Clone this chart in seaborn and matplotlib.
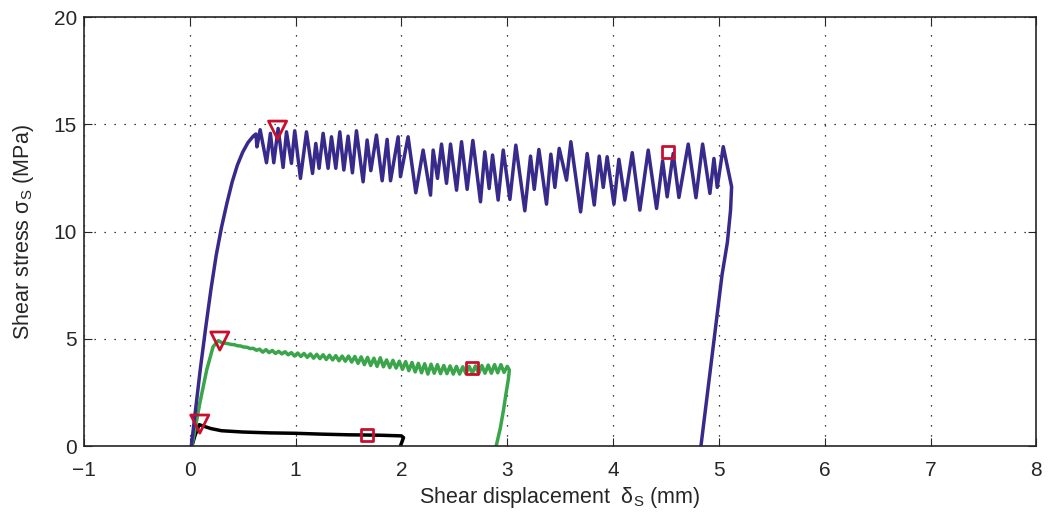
import numpy as np
import pandas as pd
import matplotlib
matplotlib.use('Agg')
import matplotlib.pyplot as plt
import seaborn as sns

# Blue curve (highest normal stress): loading, stick-slip, unloading
blue_x = [0.015, 0.05, 0.10, 0.15, 0.20, 0.25, 0.30, 0.35, 0.40, 0.45, 0.50, 0.55, 0.60, 0.625, 0.635,
          0.665, 0.725, 0.762, 0.794, 0.835, 0.882, 0.914, 0.961, 0.992, 1.046, 1.103, 1.160,
          1.191, 1.222, 1.260, 1.307, 1.339, 1.380, 1.418, 1.456, 1.496, 1.537, 1.575, 1.638,
          1.676, 1.711, 1.764, 1.818, 1.865, 1.897, 1.969, 1.991, 2.063, 2.136, 2.205, 2.275,
          2.300, 2.341, 2.379, 2.426, 2.464, 2.521, 2.568, 2.621, 2.675, 2.747, 2.788, 2.829,
          2.861, 2.914, 2.962, 3.025, 3.081, 3.166, 3.220, 3.255, 3.299, 3.371, 3.412, 3.450,
          3.491, 3.560, 3.601, 3.693, 3.755, 3.822, 3.869, 3.907, 3.944, 4.008, 4.055, 4.112,
          4.181, 4.253, 4.332, 4.411, 4.468, 4.511, 4.568, 4.622, 4.710, 4.783, 4.846, 4.915,
          4.953, 4.984, 5.041, 5.120, 5.110, 5.080, 5.030, 4.980, 4.930, 4.880, 4.830]
blue_y = [0.0, 1.5, 3.6, 5.5, 7.3, 8.9, 10.2, 11.3, 12.3, 13.1, 13.7, 14.15, 14.45, 14.55, 13.95,
          14.75, 13.21, 14.58, 13.21, 14.81, 12.99, 14.65, 13.18, 14.70, 12.48, 14.65, 12.71,
          14.11, 12.95, 14.58, 12.95, 14.42, 12.95, 14.65, 12.87, 14.45, 12.74, 14.70, 12.32,
          14.27, 12.84, 14.50, 12.37, 14.30, 12.37, 14.42, 12.56, 14.42, 11.81, 13.80, 11.70,
          13.80, 12.48, 14.08, 12.25, 14.08, 11.93, 14.19, 11.97, 14.25, 11.39, 13.72, 12.01,
          13.57, 11.47, 13.80, 11.50, 14.03, 10.97, 13.52, 11.97, 13.83, 11.28, 13.61, 12.06,
          13.88, 12.40, 14.19, 10.92, 13.64, 11.24, 13.52, 12.06, 13.49, 11.28, 13.37, 11.47,
          13.68, 11.00, 13.80, 11.08, 13.30, 11.62, 13.64, 11.59, 14.08, 11.58, 14.08, 11.78,
          13.41, 12.06, 13.96, 12.09, 11.0, 9.5, 8.0, 6.0, 4.0, 2.0, 0.0]

# Green curve (intermediate normal stress)
green_x = [0.02, 0.05, 0.095, 0.16, 0.22, 0.27,
           0.30, 0.33, 0.36, 0.39, 0.42, 0.45, 0.48, 0.51, 0.54, 0.57, 0.60, 0.63, 0.66, 0.69,
           0.72, 0.75, 0.78, 0.81, 0.84, 0.87, 0.90, 0.93, 0.96, 0.99, 1.02, 1.05, 1.08, 1.11,
           1.14, 1.17, 1.20, 1.23, 1.26, 1.29, 1.32, 1.35, 1.38, 1.41, 1.44, 1.47, 1.50, 1.53,
           1.56, 1.59, 1.62, 1.65, 1.68, 1.71, 1.74, 1.77, 1.80, 1.83, 1.86, 1.89, 1.92, 1.95,
           1.98, 2.01, 2.04, 2.07, 2.10, 2.13, 2.16, 2.19, 2.22, 2.25, 2.28, 2.31, 2.34, 2.37,
           2.40, 2.43, 2.46, 2.49, 2.52, 2.55, 2.58, 2.61, 2.64, 2.67, 2.70, 2.73, 2.76, 2.79,
           2.82, 2.85, 2.88, 2.91, 2.94, 2.97, 3.00,
           3.02, 3.01, 2.99, 2.965, 2.935, 2.895]
green_y = [0.0, 0.8, 2.0, 3.55, 4.63, 4.92,
           4.83, 4.80, 4.78, 4.74, 4.73, 4.68, 4.67, 4.62, 4.61, 4.55, 4.56, 4.47, 4.52, 4.38,
           4.50, 4.36, 4.46, 4.32, 4.42, 4.30, 4.40, 4.26, 4.36, 4.20, 4.34, 4.18, 4.32, 4.14,
           4.30, 4.10, 4.28, 4.08, 4.26, 4.04, 4.24, 4.02, 4.22, 3.98, 4.20, 3.96, 4.20, 3.92,
           4.18, 3.86, 4.16, 3.80, 4.14, 3.76, 4.10, 3.72, 4.12, 3.70, 4.02, 3.66, 4.00, 3.64,
           3.96, 3.58, 3.94, 3.52, 3.90, 3.46, 3.86, 3.42, 3.84, 3.36, 3.82, 3.40, 3.80, 3.38,
           3.76, 3.38, 3.74, 3.36, 3.72, 3.36, 3.70, 3.38, 3.72, 3.40, 3.74, 3.38, 3.76, 3.40,
           3.78, 3.40, 3.80, 3.42, 3.80, 3.44, 3.72,
           3.55, 3.10, 2.50, 1.70, 0.85, 0.0]

# Black curve (lowest normal stress)
black_x = [0.02, 0.05, 0.09, 0.12, 0.20, 0.30, 0.50, 0.75, 1.00, 1.25, 1.50, 1.66, 1.80, 2.00, 2.02, 1.99]
black_y = [0.0, 0.5, 1.0, 0.95, 0.82, 0.72, 0.66, 0.62, 0.60, 0.56, 0.53, 0.52, 0.51, 0.48, 0.40, 0.0]

# Peak (triangle) and residual (square) markers
peak_x = [0.83, 0.284, 0.095]
peak_y = [14.73, 4.90, 1.03]
resid_x = [4.52, 2.665, 1.673]
resid_y = [13.70, 3.64, 0.51]

BLUE = '#382a8a'
GREEN = '#3aa54a'
RED = '#c8102e'

sns.set_style('ticks')
plt.rcParams['font.family'] = ['Liberation Sans', 'DejaVu Sans']
plt.rcParams['mathtext.fontset'] = 'custom'
plt.rcParams['mathtext.rm'] = 'Liberation Sans'
plt.rcParams['mathtext.it'] = 'Liberation Sans:italic'

fig = plt.figure(figsize=(10.49, 5.17), dpi=100)
ax = fig.add_axes([0.080, 0.137, 0.908, 0.830])

for xs, ys, col in [(black_x, black_y, 'black'), (green_x, green_y, GREEN), (blue_x, blue_y, BLUE)]:
    df = pd.DataFrame({'x': xs, 'y': ys})
    sns.lineplot(data=df, x='x', y='y', sort=False, estimator=None, color=col, lw=2.5, ax=ax)

sns.scatterplot(x=peak_x, y=peak_y, marker='v', s=170, fc='none', ec=RED, linewidth=2.0, ax=ax, zorder=5)
sns.scatterplot(x=resid_x, y=resid_y, marker='s', s=75, fc='none', ec=RED, linewidth=2.0, ax=ax, zorder=5)

ax.set_xlim(-1, 8)
ax.set_ylim(0, 20)
ax.set_xticks(range(-1, 9))
ax.set_yticks([0, 5, 10, 15, 20])
ax.set_xticklabels(['\u22121'] + [str(i) for i in range(0, 9)])
ax.grid(True, color='black', linestyle=(0, (1, 7)), linewidth=0.9)
ax.tick_params(direction='in', length=6, width=0.8, top=True, right=True, labelsize=15)
ax.tick_params(axis='x', pad=11)
ax.tick_params(axis='y', pad=5)
for s in ax.spines.values():
    s.set_linewidth(1.2)
    s.set_visible(True)

ax.set_xlabel('Shear displacement  \u03b4$_\\mathrm{S}$ (mm)', fontsize=15.5, labelpad=3)
ax.set_ylabel('Shear stress \u03c3$_\\mathrm{S}$ (MPa)', fontsize=15.5, labelpad=13)

fig.savefig('out.png', dpi=100)
